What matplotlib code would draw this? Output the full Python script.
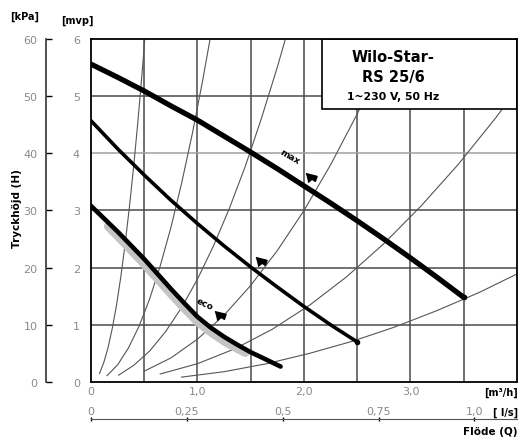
import matplotlib
matplotlib.use("Agg")
import matplotlib.pyplot as plt
from matplotlib.patches import Rectangle

## ## pump curves (Q in m3/h, H in mvp)
q_max = [0, 0.25, 0.5, 0.75, 1.0, 1.25, 1.5, 1.75, 2.0, 2.25, 2.5, 2.75, 3.0, 3.25, 3.5]
h_max = [5.56, 5.33, 5.09, 4.83, 4.58, 4.30, 4.02, 3.73, 3.43, 3.13, 2.82, 2.50, 2.17, 1.83, 1.48]

q_mid = [0, 0.25, 0.5, 0.75, 1.0, 1.25, 1.5, 1.75, 2.0, 2.25, 2.5]
h_mid = [4.57, 4.08, 3.62, 3.18, 2.77, 2.38, 2.01, 1.66, 1.32, 1.0, 0.70]

q_eco = [0, 0.25, 0.5, 0.75, 0.875, 1.0, 1.125, 1.25, 1.375, 1.5, 1.625, 1.78]
h_eco = [3.08, 2.63, 2.15, 1.63, 1.38, 1.14, 0.95, 0.79, 0.65, 0.52, 0.41, 0.27]

## grey band along the eco curve
q_band = [0.16, 0.25, 0.5, 0.75, 0.875, 1.0, 1.125, 1.25, 1.375, 1.45]
h_band = [2.72, 2.55, 2.06, 1.54, 1.29, 1.05, 0.87, 0.71, 0.58, 0.51]

## thin system curves
sys_q = [
    [0.08, 0.12, 0.16, 0.2, 0.24, 0.28, 0.32, 0.36, 0.4, 0.44, 0.48, 0.505],
    [0.15, 0.25, 0.35, 0.45, 0.55, 0.65, 0.75, 0.85, 0.95, 1.05, 1.12],
    [0.26, 0.4, 0.55, 0.7, 0.85, 1.0, 1.15, 1.3, 1.45, 1.6, 1.75, 1.83],
    [0.5, 0.75, 1.0, 1.25, 1.5, 1.75, 2.0, 2.25, 2.5, 2.75],
    [0.65, 1.0, 1.35, 1.7, 2.05, 2.4, 2.75, 3.1, 3.45, 3.8, 4.0],
    [0.85, 1.25, 1.65, 2.05, 2.45, 2.85, 3.25, 3.65, 4.0],
]
sys_h = [
    [0.15, 0.34, 0.60, 0.94, 1.35, 1.84, 2.41, 3.05, 3.76, 4.55, 5.41, 6.0],
    [0.11, 0.30, 0.59, 0.97, 1.45, 2.03, 2.70, 3.47, 4.33, 5.29, 6.02],
    [0.12, 0.29, 0.54, 0.88, 1.30, 1.80, 2.38, 3.04, 3.78, 4.61, 5.51, 6.03],
    [0.19, 0.42, 0.75, 1.17, 1.69, 2.30, 3.0, 3.80, 4.69, 5.67],
    [0.14, 0.32, 0.58, 0.92, 1.34, 1.84, 2.42, 3.08, 3.81, 4.62, 5.12],
    [0.085, 0.18, 0.32, 0.50, 0.71, 0.96, 1.25, 1.57, 1.89],
]

x_ticks = [0, 1, 2, 3]
x_labels = ["0", "1,0", "2,0", "3,0"]
ls_ticks = [0, 0.25, 0.5, 0.75, 1.0]
ls_labels = ["0", "0,25", "0,5", "0,75", "1,0"]
kpa_ticks = [0, 10, 20, 30, 40, 50, 60]

grey = "#8a8a8a"
grid_c = "#4a4a4a"

plt.rcParams["font.family"] = ["DejaVu Sans"]
fig = plt.figure(figsize=(5.23, 4.39), dpi=100)
ax = fig.add_axes([0.174, 0.1276, 0.8145, 0.7813])
ax.set_xlim(0, 4.0)
ax.set_ylim(0, 6)

## grid
for q in [0.5, 1.0, 1.5, 2.0, 2.5, 3.0, 3.5]:
    ax.axvline(q, color=grid_c, lw=1.1, zorder=1)
for h in [1, 2, 3, 4, 5]:
    ax.axhline(h, color="#a0a0a0" if h == 4 else grid_c, lw=1.1, zorder=1)

## system curves
for qs, hs in zip(sys_q, sys_h):
    ax.plot(qs, hs, color="#555555", lw=0.8, zorder=2)

## pump curves
ax.plot(q_band, h_band, color="#c4c4c4", lw=6, solid_capstyle="round", zorder=3)
ax.plot(q_max, h_max, color="black", lw=3.8, solid_capstyle="round", zorder=4)
ax.plot(q_mid, h_mid, color="black", lw=2.6, solid_capstyle="round", zorder=4)
ax.plot(q_eco, h_eco, color="black", lw=3.3, solid_capstyle="round", zorder=4)
ax.plot([q_max[-1], q_mid[-1]], [h_max[-1], h_mid[-1]], "o", color="black", ms=3, zorder=5)

## setting markers
flag = [(-1, 0.7), (1, 0.2), (0.7, -0.7), (0.1, -0.3), (-0.6, -0.9)]
ax.plot([2.07, 1.6, 1.21], [3.59, 2.12, 1.17], ls="none", marker=flag, ms=8,
        color="black", zorder=5)
ax.text(1.87, 3.95, "max", rotation=-30, fontsize=6.5, fontweight="bold",
        ha="center", va="center", zorder=5)
ax.text(1.07, 1.38, "eco", rotation=-25, fontsize=6.5, fontweight="bold",
        ha="center", va="center", zorder=5)

## title box
ax.add_patch(Rectangle((2.17, 4.78), 1.83, 1.22, facecolor="white",
                       edgecolor="black", lw=1.2, zorder=6))
ax.text(2.84, 5.7, "Wilo-Star-", fontsize=10.5, fontweight="bold", ha="center", va="center", zorder=7)
ax.text(2.84, 5.35, "RS 25/6", fontsize=10.5, fontweight="bold", ha="center", va="center", zorder=7)
ax.text(2.84, 5.0, "1~230 V, 50 Hz", fontsize=7.8, fontweight="bold", ha="center", va="center", zorder=7)

for s in ax.spines.values():
    s.set_color("black")
    s.set_linewidth(1.3)
    s.set_zorder(8)

## mvp axis
ax.set_yticks([0, 1, 2, 3, 4, 5, 6])
ax.tick_params(axis="y", length=0, pad=8, labelsize=8, labelcolor=grey)
ax.set_xticks(x_ticks)
ax.set_xticklabels(x_labels)
ax.tick_params(axis="x", length=0, pad=3, labelsize=8, labelcolor=grey)

## kPa axis
kpa = ax.secondary_yaxis(-0.106, functions=(lambda h: h * 10, lambda p: p / 10))
kpa.set_yticks(kpa_ticks)
kpa.tick_params(direction="in", length=4, width=1, labelsize=8, labelcolor=grey, pad=6)
kpa.spines["left"].set_linewidth(1.2)
kpa.spines["left"].set_color("#333333")

## l/s axis
ls = ax.secondary_xaxis(-0.108, functions=(lambda q: q / 3.6, lambda l: l * 3.6))
ls.set_xticks(ls_ticks)
ls.set_xticklabels(ls_labels)
ls.tick_params(direction="inout", length=3, width=1, labelsize=8, labelcolor=grey,
               labelbottom=False, labeltop=True, top=False, pad=0.5)
ls.spines["bottom"].set_color("#555555")

## labels
fig.text(0.048, 0.961, "[kPa]", fontsize=7, fontweight="bold", ha="center", va="center")
fig.text(0.148, 0.952, "[mvp]", fontsize=7, fontweight="bold", ha="center", va="center")
fig.text(0.033, 0.526, "Tryckhöjd (H)", fontsize=7.5, fontweight="bold", rotation=90,
         ha="center", va="center")
fig.text(0.99, 0.105, "[m³/h]", fontsize=7, fontweight="bold", ha="right", va="center")
fig.text(0.99, 0.059, "[ l/s]", fontsize=7, fontweight="bold", ha="right", va="center")
fig.text(0.99, 0.016, "Flöde (Q)", fontsize=7.5, fontweight="bold", ha="right", va="center")

plt.savefig("out.png", dpi=100)
